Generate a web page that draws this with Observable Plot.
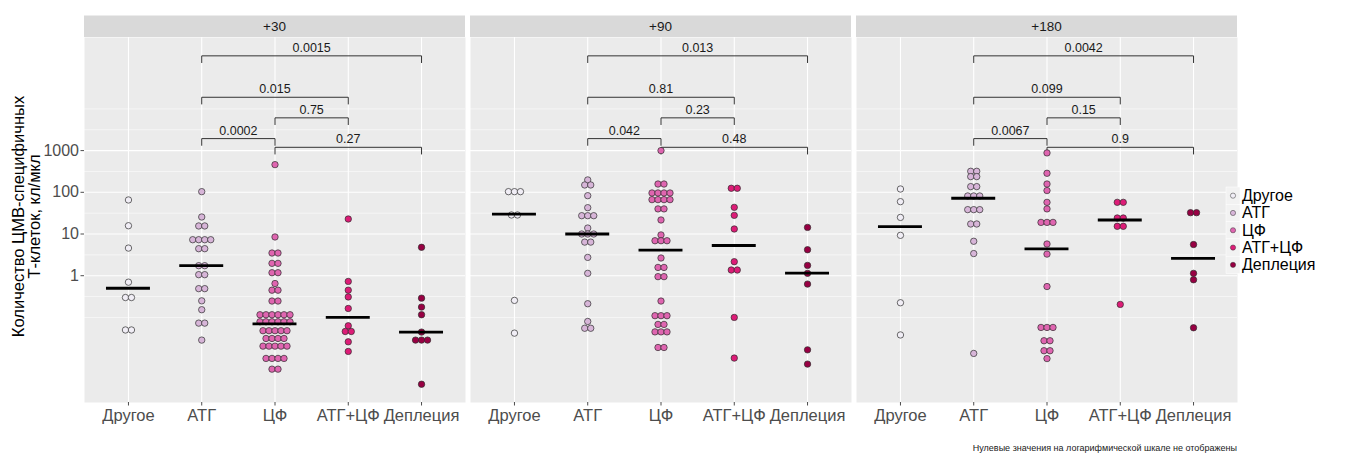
<!DOCTYPE html>
<html>
<head>
<meta charset="utf-8">
<script src="https://cdn.jsdelivr.net/npm/d3@7"></script>
<script src="https://cdn.jsdelivr.net/npm/@observablehq/plot@0.6"></script>
<style>
  body { margin: 0; background: #fff; font-family: "Liberation Sans", Arial, sans-serif; }
  #wrap { position: relative; width: 1346px; height: 454px; }
  #caption { position: absolute; right: 109px; top: 443px; font-size: 9px; line-height: 11px; color: #1a1a1a; white-space: nowrap; }
</style>
</head>
<body>
<div id="wrap"><div id="caption">Нулевые значения на логарифмической шкале не отображены</div></div>
<script>
// Days after transplant (facets) and therapy groups (x categories)
const timepoints = ["+30", "+90", "+180"];
const groups = ["Другое", "АТГ", "ЦФ", "АТГ+ЦФ", "Деплеция"];
const palette = ["#f1eef6", "#d7b5d8", "#df65b0", "#dd1c77", "#980043"];

// CMV-specific T cells, cells/µl; one list per group (zeros are not shown on the log scale)
const day30 = [
  [65.5, 15.8, 4.6, 0.70, 0.30, 0.30, 0.05, 0.05],
  [103.7, 25.6, 15.6, 15.6, 7.3, 7.3, 7.3, 7.3, 4.45, 4.45, 1.74, 1.74, 1.06, 1.06, 0.49, 0.49, 0.25, 0.153, 0.073, 0.073, 0.0286],
  [461, 8.5, 3.5, 3.5, 1.98, 1.98, 1.18, 1.18, 0.65, 0.45, 0.45, 0.247, 0.247,
   0.116, 0.116, 0.116, 0.116, 0.116, 0.116, 0.0787, 0.0787, 0.0787, 0.0787, 0.0787, 0.0787,
   0.048, 0.048, 0.048, 0.048, 0.048, 0.0313, 0.0313, 0.0313, 0.0313,
   0.0205, 0.0205, 0.0205, 0.0205, 0.0205, 0.0104, 0.0104, 0.0104, 0.0104, 0.00575, 0.00575],
  [22.9, 0.73, 0.45, 0.31, 0.164, 0.063, 0.046, 0.046, 0.026, 0.0153],
  [4.8, 0.29, 0.177, 0.116, 0.0445, 0.0286, 0.0286, 0.0286, 0.0025]
];
const day90 = [
  [103.7, 103.7, 103.7, 28.6, 28.6, 0.256, 0.042],
  [198, 150, 150, 83, 42.8, 27.5, 27.5, 27.5, 13.9, 10, 10, 10, 6.4, 6.4, 2.75, 1.14, 0.213, 0.08, 0.055, 0.055],
  [1000, 158, 158, 96.4, 96.4, 96.4, 96.4, 66.7, 66.7, 66.7, 66.7, 40, 40, 21.7, 9.5, 6.9, 6.9, 6.9,
   2.66, 1.58, 1.58, 0.95, 0.95, 0.247, 0.11, 0.11, 0.11, 0.068, 0.068, 0.045, 0.045, 0.045, 0.019, 0.019],
  [125, 125, 43.6, 28, 13.2, 2.17, 1.37, 1.37, 0.1, 0.0106],
  [14.4, 4.2, 1.77, 1.14, 0.63, 0.0167, 0.0076]
];
const day180 = [
  [120, 59.7, 25, 9.3, 0.225, 0.038],
  [319, 319, 238, 238, 137, 137, 81.7, 81.7, 81.7, 38.4, 38.4, 38.4, 17.4, 17.4, 6.7, 3.4, 0.0137],
  [880, 286, 158, 110, 57.5, 40, 19, 19, 19, 5.76, 3.3, 0.55, 0.0575, 0.0575, 0.0575, 0.0276, 0.0276, 0.0159, 0.0159, 0.0103],
  [57.5, 57.5, 24.2, 24.2, 15.3, 15.3, 0.205],
  [32.5, 32.5, 5.6, 1.14, 0.8, 0.0565]
];

// Group medians (computed with zero values included)
const medians30 = [0.5, 1.74, 0.07, 0.1, 0.0445];
const medians90 = [30, 10, 4.1, 5.3, 1.16];
const medians180 = [15, 72, 4.4, 21.7, 2.6];

// Pairwise comparisons (group indices), bracket heights and p-values
const comparisons = [[1, 4], [1, 3], [2, 3], [1, 2], [2, 4]];
const bracketLevels = [187000, 19000, 6100, 1940, 1200];
const pvalues30 = ["0.0015", "0.015", "0.75", "0.0002", "0.27"];
const pvalues90 = ["0.013", "0.81", "0.23", "0.042", "0.48"];
const pvalues180 = ["0.0042", "0.099", "0.15", "0.0067", "0.9"];

// Axis ticks and grid lines
const yTicks = [1, 10, 100, 1000];
const yMinor = [0.1, 0.316, 3.16, 31.6, 316, 3162, 10000];
const groupIndex = [0, 1, 2, 3, 4];

const valuesByTime = [day30, day90, day180];
const mediansByTime = [medians30, medians90, medians180];
const pvaluesByTime = [pvalues30, pvalues90, pvalues180];

// Center-stacked dot layout: equal values sit side by side around the category
const dotStep = 0.082;
const points = [];
valuesByTime.forEach((lists, ti) => {
  lists.forEach((vals, gi) => {
    const counts = d3.rollup(vals, v => v.length, d => d);
    for (const [value, n] of counts) {
      for (let k = 0; k < n; k++) {
        points.push({time: timepoints[ti], group: groups[gi], value, x: gi + (k - (n - 1) / 2) * dotStep});
      }
    }
  });
});

const medianRows = [];
mediansByTime.forEach((meds, ti) => meds.forEach((m, gi) => medianRows.push({time: timepoints[ti], gi, value: m})));

const tipFactor = 1.45;
const bracketPath = [];
const bracketText = [];
pvaluesByTime.forEach((ps, ti) => {
  comparisons.forEach(([a, b], ci) => {
    const id = `${ti}-${ci}`, lvl = bracketLevels[ci], t = timepoints[ti];
    bracketPath.push({id, time: t, x: a, y: lvl / tipFactor});
    bracketPath.push({id, time: t, x: a, y: lvl});
    bracketPath.push({id, time: t, x: b, y: lvl});
    bracketPath.push({id, time: t, x: b, y: lvl / tipFactor});
    bracketText.push({time: t, x: (a + b) / 2, y: lvl, text: ps[ci]});
  });
});

const chart = Plot.plot({
  width: 1346,
  height: 432,
  marginLeft: 83,
  marginRight: 109,
  marginTop: 37,
  marginBottom: 30,
  style: {fontFamily: "'Liberation Sans', Arial, sans-serif", background: "transparent", overflow: "visible"},
  fx: {domain: timepoints, paddingInner: 0.0135, paddingOuter: 0, axis: null, label: null},
  x: {domain: [-0.6, 4.6], axis: null},
  y: {type: "log", domain: [Math.pow(10, -3.04), Math.pow(10, 5.712)], axis: null},
  color: {domain: groups, range: palette},
  marks: [
    Plot.frame({fill: "#ebebeb", stroke: "none"}),
    Plot.gridY(yMinor, {stroke: "white", strokeOpacity: 1, strokeWidth: 0.55}),
    Plot.gridY(yTicks, {stroke: "white", strokeOpacity: 1, strokeWidth: 1.1}),
    Plot.gridX(groupIndex, {stroke: "white", strokeOpacity: 1, strokeWidth: 1.1}),
    Plot.axisX(groupIndex, {tickFormat: i => groups[i], tickSize: 3.5, tickPadding: 3, fontSize: 16.5, color: "#4d4d4d", label: null}),
    Plot.axisY(yTicks, {tickFormat: d => String(d), tickSize: 3.5, tickPadding: 2, fontSize: 16, color: "#4d4d4d", label: null}),
    Plot.line(bracketPath, {fx: "time", x: "x", y: "y", z: "id", stroke: "#333", strokeWidth: 1}),
    Plot.text(bracketText, {fx: "time", x: "x", y: "y", text: "text", dy: -8, fontSize: 12.5, fill: "#1a1a1a"}),
    Plot.dot(points, {fx: "time", x: "x", y: "value", r: 3.2, fill: "group", stroke: "#2e2e2e", strokeWidth: 0.7}),
    Plot.ruleY(medianRows, {fx: "time", y: "value", x1: d => d.gi - 0.3, x2: d => d.gi + 0.3, stroke: "black", strokeWidth: 2.8})
  ]
});

document.getElementById("wrap").prepend(chart);

// Facet strips, y-axis title and the colour legend, placed from the plot's own scales
const svg = d3.select(chart);
const fxs = chart.scale("fx");
const ys = chart.scale("y");
const panelTop = Math.min(...ys.range);
const panelBottom = Math.max(...ys.range);
const fxBand = d3.scaleBand(fxs.domain, fxs.range)
  .paddingInner(fxs.paddingInner ?? 0.0135)
  .paddingOuter(fxs.paddingOuter ?? 0)
  .align(fxs.align ?? 0.5);
const bw = fxs.bandwidth ?? fxBand.bandwidth();
const stripH = 21.5;

const strips = svg.append("g");
for (const t of timepoints) {
  const left = fxs.apply ? fxs.apply(t) : fxBand(t);
  strips.append("rect")
    .attr("x", left).attr("y", panelTop - stripH)
    .attr("width", bw).attr("height", stripH)
    .attr("fill", "#d9d9d9");
  strips.append("text")
    .attr("x", left + bw / 2).attr("y", panelTop - stripH / 2)
    .attr("text-anchor", "middle").attr("dominant-baseline", "central")
    .attr("font-size", 13.5).attr("fill", "#1a1a1a")
    .text(t);
}

const midY = (panelTop + panelBottom) / 2;
const title = svg.append("text")
  .attr("transform", `translate(18,${midY - 3}) rotate(-90)`)
  .attr("text-anchor", "middle").attr("dominant-baseline", "central")
  .attr("font-size", 16.5).attr("fill", "black");
title.append("tspan").attr("x", 0).attr("dy", 0).text("Количество ЦМВ-специфичных");
title.append("tspan").attr("x", 0).attr("dy", 16).text("Т-клеток, кл/мкл");

const colorScale = chart.scale("color");
const legendColor = d3.scaleOrdinal(colorScale.domain, colorScale.range);
const legend = svg.append("g").attr("transform", "translate(1226,187)");
const rowH = 17.3;
groups.forEach((g, i) => {
  legend.append("rect")
    .attr("x", 0).attr("y", i * rowH).attr("width", 14).attr("height", rowH)
    .attr("fill", "#f2f2f2").attr("stroke", "white").attr("stroke-width", 0.5);
  legend.append("circle")
    .attr("cx", 7).attr("cy", i * rowH + rowH / 2).attr("r", 2.6)
    .attr("fill", legendColor(g)).attr("stroke", "#333").attr("stroke-width", 0.5);
  legend.append("text")
    .attr("x", 16).attr("y", i * rowH + rowH / 2)
    .attr("text-anchor", "start").attr("dominant-baseline", "central")
    .attr("font-size", 16).attr("fill", "black")
    .text(g);
});
</script>
</body>
</html>
